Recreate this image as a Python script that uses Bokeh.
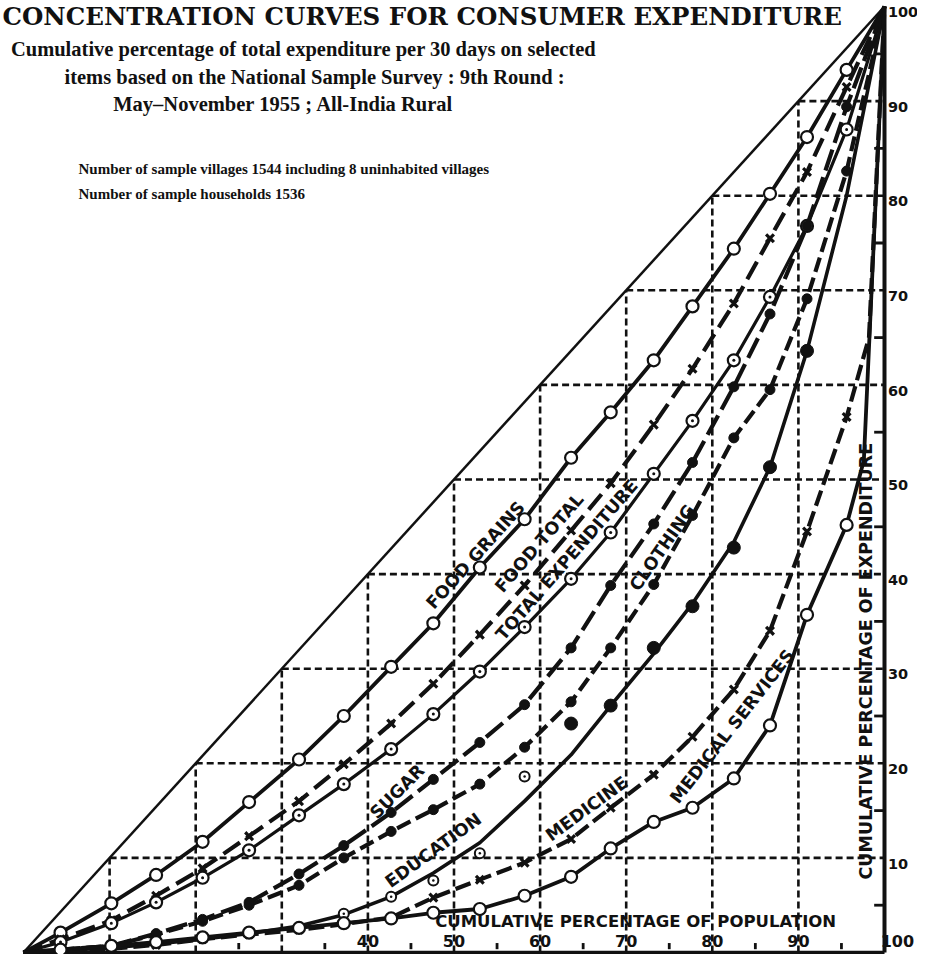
import math
from bokeh.plotting import figure
from bokeh.models import Range1d, Label
from bokeh.embed import file_html
from bokeh.resources import INLINE
from bokeh.core.properties import value

# ---------------- data ----------------
# cumulative % of population at each expenditure-class boundary
pop_pct = [4.3, 10.2, 15.4, 20.8, 26.2, 32.0, 37.2, 42.7, 47.6, 53.0,
           58.2, 63.6, 68.2, 73.2, 77.7, 82.5, 86.7, 91.0, 95.6]

food_grains = [2.1, 5.2, 8.2, 11.7, 15.9, 20.4, 25.0, 30.2, 34.8, 40.7,
               45.8, 52.3, 57.1, 62.6, 68.3, 74.4, 80.2, 86.2, 93.3]
food_total = [1.4, 3.4, 6.0, 8.9, 12.3, 16.0, 19.9, 24.2, 28.4, 33.6,
              38.8, 44.6, 49.6, 55.8, 61.7, 68.6, 75.5, 82.5, 91.5]
total_expenditure = [1.1, 3.1, 5.3, 7.9, 10.8, 14.5, 17.8, 21.5, 25.2, 29.7,
                     34.4, 39.5, 44.4, 50.6, 56.2, 62.6, 69.3, 76.8, 87.0]
sugar = [0.3, 0.7, 2.0, 3.5, 5.3, 8.3, 11.3, 14.8, 18.3, 22.2,
         26.2, 32.2, 38.8, 45.3, 51.8, 59.8, 67.5, 76.8, 89.4]
clothing = [0.3, 0.7, 1.9, 3.3, 5.0, 7.1, 10.0, 12.8, 15.1, 17.8,
            21.7, 26.5, 32.2, 38.9, 46.2, 54.4, 59.5, 69.1, 82.6]
education_curve = [0.2, 0.5, 0.9, 1.4, 2.0, 2.8, 4.0, 5.9, 8.4, 11.6,
                   16.0, 20.9, 26.1, 31.6, 36.9, 43.4, 51.3, 63.6, 80.0]
education_ring_x = [37.2, 42.7, 47.6, 53.0, 58.2]
education_ring_y = [4.1, 5.9, 7.6, 10.5, 18.6]
education_dot_x = [63.6, 68.2, 73.2, 77.7, 82.5, 86.7, 91.0]
education_dot_y = [24.2, 26.1, 32.2, 36.6, 42.8, 51.3, 63.6]
medicine = [0.2, 0.4, 0.8, 1.4, 1.9, 2.4, 3.0, 3.7, 5.8, 7.7,
            9.5, 12.0, 15.3, 18.8, 22.8, 27.8, 34.0, 44.5, 56.6]
medicine_tail_x = [98.2]
medicine_tail_y = [65.0]
medical_services = [0.3, 0.7, 1.1, 1.6, 2.1, 2.6, 3.1, 3.6, 4.2, 4.6,
                    6.0, 8.0, 11.0, 13.8, 15.3, 18.4, 24.0, 35.7, 45.2]
medical_tail_x = [97.6, 98.8]
medical_tail_y = [52.0, 76.0]

grid_ticks = [10, 20, 30, 40, 50, 60, 70, 80, 90]
y_tick_labels = [10, 20, 30, 40, 50, 60, 70, 80, 90, 100]
x_tick_labels = [40, 50, 60, 70, 80, 90, 100]
y_minor = [5, 15, 25, 35, 45, 55, 65, 75, 85, 95]
x_minor = [25, 35, 45, 55, 65, 75, 85, 95]

# ---------------- layout ----------------
W, H = 917, 954
X0_PX, X100_PX = 23, 884     # inside the figure
Y0_PX, Y100_PX = 952, 6      # from the figure top
sx = (X100_PX - X0_PX) / 100.0
sy = (Y0_PX - Y100_PX) / 100.0
x_start = -X0_PX / sx
x_end = x_start + W / sx
y_start = -(H - Y0_PX) / sy
y_end = y_start + H / sy

p = figure(width=W, height=H,
           x_range=Range1d(x_start, x_end), y_range=Range1d(y_start, y_end),
           output_backend="svg", toolbar_location=None,
           x_axis_location=None, y_axis_location=None,
           min_border=0, outline_line_color=None,
           background_fill_color="white", border_fill_color="white")
p.grid.visible = False

INK = "#111111"
SANS = value("DejaVu Sans")

# triangular dashed grid below the line of equality
p.segment(x0=grid_ticks, y0=[0] * len(grid_ticks), x1=grid_ticks, y1=grid_ticks,
          line_color=INK, line_width=2.6, line_dash="7 4")
p.segment(x0=grid_ticks, y0=grid_ticks, x1=[100] * len(grid_ticks), y1=grid_ticks,
          line_color=INK, line_width=2.6, line_dash="7 4")

# line of equality and frame axes
p.line([0, 100], [0, 100], line_color=INK, line_width=2.5)
p.line([100, 100], [0, 100], line_color=INK, line_width=4)
p.line([0, 100], [0, 0], line_color=INK, line_width=3.5)
p.segment(x0=[98.8] * len(y_minor), y0=y_minor, x1=[100] * len(y_minor), y1=y_minor,
          line_color=INK, line_width=2.8)
p.segment(x0=x_minor, y0=[0.35] * len(x_minor), x1=x_minor, y1=[1.0] * len(x_minor),
          line_color=INK, line_width=2.8)


def full(xs, ys, tail_x=(), tail_y=()):
    return [0] + list(xs) + list(tail_x) + [100], [0] + list(ys) + list(tail_y) + [100]


# FOOD GRAINS
lx, ly = full(pop_pct, food_grains)
p.line(lx, ly, line_color=INK, line_width=3.8, line_join="round")
p.scatter(pop_pct, food_grains, marker="circle", size=12, fill_color="white",
          line_color=INK, line_width=2.2)

# FOOD TOTAL
lx, ly = full(pop_pct, food_total)
p.line(lx, ly, line_color=INK, line_width=4.2, line_dash="20 8", line_join="round")
p.scatter(pop_pct, food_total, marker="x", size=11, line_color=INK, line_width=3.2)

# TOTAL EXPENDITURE
lx, ly = full(pop_pct, total_expenditure)
p.line(lx, ly, line_color=INK, line_width=3.2, line_join="round")
p.scatter(pop_pct, total_expenditure, marker="circle_dot", size=12, fill_color="white",
          line_color=INK, line_width=2.2)

# SUGAR
lx, ly = full(pop_pct, sugar)
p.line(lx, ly, line_color=INK, line_width=4.2, line_dash="22 7", line_join="round")
p.scatter(pop_pct, sugar, marker="circle", size=10, fill_color=INK, line_color=INK)

# CLOTHING
lx, ly = full(pop_pct, clothing)
p.line(lx, ly, line_color=INK, line_width=4.2, line_dash="15 6", line_join="round")
p.scatter(pop_pct, clothing, marker="circle", size=10, fill_color=INK, line_color=INK)

# EDUCATION
lx, ly = full(pop_pct, education_curve)
p.line(lx, ly, line_color=INK, line_width=3.6, line_join="round")
p.scatter(education_ring_x, education_ring_y, marker="circle_dot", size=10,
          fill_color="white", line_color=INK, line_width=2)
p.scatter(education_dot_x, education_dot_y, marker="circle", size=13,
          fill_color=INK, line_color=INK)

# MEDICINE
lx, ly = full(pop_pct, medicine, medicine_tail_x, medicine_tail_y)
p.line(lx, ly, line_color=INK, line_width=4.2, line_dash="16 6", line_join="round")
p.scatter(pop_pct, medicine, marker="x", size=11, line_color=INK, line_width=3.2)

# MEDICAL SERVICES
lx, ly = full(pop_pct, medical_services, medical_tail_x, medical_tail_y)
p.line(lx, ly, line_color=INK, line_width=3.8, line_join="round")
p.scatter(pop_pct, medical_services, marker="circle", size=12, fill_color="white",
          line_color=INK, line_width=2.2)

# curve names
curve_names = ["FOOD GRAINS", "FOOD TOTAL", "TOTAL EXPENDITURE", "CLOTHING",
               "SUGAR", "EDUCATION", "MEDICINE", "MEDICAL SERVICES"]
name_x = [52.5, 59.9, 63.1, 74.2, 43.4, 47.6, 65.4, 82.3]
name_y = [42.0, 43.3, 41.5, 42.8, 17.0, 10.8, 15.2, 23.9]
name_angle = [math.radians(a) for a in [48, 49, 49, 55, 45, 36, 36, 52]]
p.text(x=name_x, y=name_y, text=curve_names, angle=name_angle,
       text_font=SANS, text_font_style="bold", text_font_size="17.5px",
       text_color=INK, text_align="center", text_baseline="middle")

# axis numbers
p.text(x=[100.4] * len(y_tick_labels), y=[v - 0.6 for v in y_tick_labels],
       text=[str(v) for v in y_tick_labels],
       text_font=SANS, text_font_style="bold", text_font_size="14.5px",
       text_color=INK, text_align="left", text_baseline="middle")
p.text(x=[v + (1.5 if v == 100 else 0) for v in x_tick_labels],
       y=[1.2] * len(x_tick_labels), text=[str(v) for v in x_tick_labels],
       text_font=SANS, text_font_style="bold", text_font_size="16px",
       text_color=INK, text_align="center", text_baseline="middle")

# axis titles
p.text(x=[71.1], y=[3.3], text=["CUMULATIVE PERCENTAGE OF POPULATION"],
       text_font=SANS, text_font_style="bold", text_font_size="16.5px",
       text_color=INK, text_align="center", text_baseline="middle")
p.text(x=[97.8], y=[30.8], text=["CUMULATIVE PERCENTAGE OF EXPENDITURE"],
       angle=[math.pi / 2],
       text_font=SANS, text_font_style="bold", text_font_size="17.5px",
       text_color=INK, text_align="center", text_baseline="middle")

# titles and notes (screen units measured from the frame's bottom-left)
p.add_layout(Label(x=2, y=H - 1, x_units="screen", y_units="screen",
                   text="CONCENTRATION CURVES FOR CONSUMER EXPENDITURE",
                   text_font="DejaVu Serif", text_font_style="bold",
                   text_font_size="24.5px",
                   text_color=INK, text_baseline="top", text_align="left"))
subtitle = ["Cumulative percentage of total expenditure per 30 days on selected",
            "items based on the National Sample Survey : 9th Round :",
            "May\u2013November 1955 ; All-India Rural"]
sub_cx = [303, 314, 283]
sub_py = [48, 76, 103]
for t, cx, py in zip(subtitle, sub_cx, sub_py):
    p.add_layout(Label(x=cx, y=H - py, x_units="screen", y_units="screen", text=t,
                       text_font="Liberation Serif", text_font_style="bold",
                       text_font_size="20.5px", text_color=INK,
                       text_baseline="middle", text_align="center"))
notes = ["Number of sample villages 1544 including 8 uninhabited villages",
         "Number of sample households 1536"]
for t, py in zip(notes, [168, 193]):
    p.add_layout(Label(x=78, y=H - py, x_units="screen", y_units="screen", text=t,
                       text_font="Liberation Serif", text_font_style="bold",
                       text_font_size="15px", text_color=INK,
                       text_baseline="middle", text_align="left"))

open("out.html", "w").write(file_html(p, INLINE))
